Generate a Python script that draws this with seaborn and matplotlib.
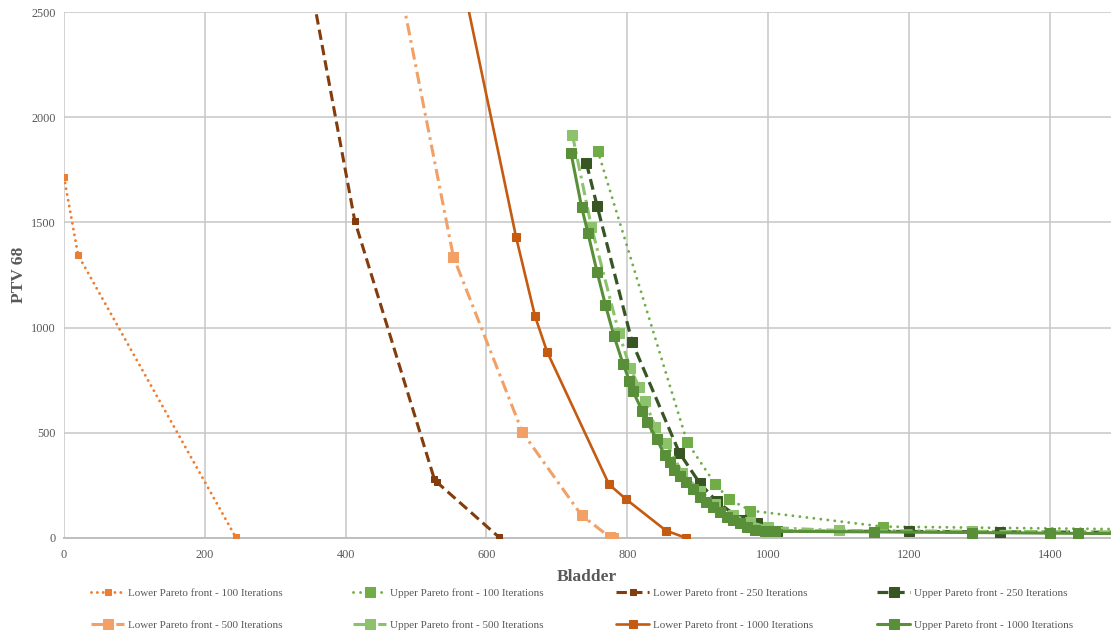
import matplotlib
matplotlib.use("Agg")
import matplotlib.pyplot as plt
import seaborn as sns
import pandas as pd

# ---------------- data ----------------
lower100_x = [0, 20, 244]
lower100_y = [1715, 1345, 3]

upper100_x = [758, 885, 925, 945, 975, 1163, 1500]
upper100_y = [1841, 456, 255, 184, 130, 54, 42]

lower250_x = [330, 413, 526, 530, 618]
lower250_y = [3000, 1507, 280, 264, 3]

upper250_x = [742, 757, 807, 874, 903, 927, 962, 984, 1012, 1200, 1330, 1500]
upper250_y = [1781, 1580, 930, 405, 260, 174, 86, 70, 33, 31, 29, 27]

lower500_x = [455, 553, 651, 735, 775, 780]
lower500_y = [3000, 1337, 503, 108, 5, 2]

upper500_x = [722, 749, 788, 804, 817, 825, 840, 855, 878, 903, 925, 950, 975, 1000,
              1100, 1290, 1500]
upper500_y = [1917, 1480, 976, 808, 716, 651, 526, 453, 310, 225, 160, 110, 75, 50,
              36, 32, 29]

lower1000_x = [544, 642, 669, 686, 774, 798, 855, 884]
lower1000_y = [3000, 1431, 1054, 886, 255, 185, 35, 0]

upper1000_x = [720, 735, 744, 757, 769, 781, 794, 803, 808, 821, 828, 842, 853, 860, 867,
               875, 884, 893, 903, 912, 922, 931, 941, 950, 960, 970, 981, 995, 1010,
               1150, 1290, 1400, 1440, 1500]
upper1000_y = [1831, 1575, 1451, 1266, 1107, 962, 827, 748, 699, 605, 551, 470, 394, 360, 323,
               295, 268, 232, 196, 170, 146, 122, 101, 85, 70, 52, 38, 33, 32,
               29, 26, 23, 22, 21]

labels = ["Lower Pareto front - 100 Iterations", "Upper Pareto front - 100 Iterations",
          "Lower Pareto front - 250 Iterations", "Upper Pareto front - 250 Iterations",
          "Lower Pareto front - 500 Iterations", "Upper Pareto front - 500 Iterations",
          "Lower Pareto front - 1000 Iterations", "Upper Pareto front - 1000 Iterations"]

x_ticks = [0, 200, 400, 600, 800, 1000, 1200, 1400]
y_ticks = [0, 500, 1000, 1500, 2000, 2500]

# ---------------- styling ----------------
# (x, y, colour, dash pattern, capstyle, linewidth, markersize)
series = [
    (lower100_x, lower100_y, "#ED7D31", (0, (0.01, 2.0)), "round", 2.1, 5.0),
    (upper100_x, upper100_y, "#70AD47", (0, (0.01, 2.4)), "round", 2.1, 6.8),
    (lower250_x, lower250_y, "#843C0C", (0, (3.4, 1.7)), "butt", 2.2, 4.5),
    (upper250_x, upper250_y, "#375623", (0, (3.4, 1.7)), "butt", 2.3, 6.5),
    (lower500_x, lower500_y, "#F2A066", (0, (4.0, 1.6, 0.9, 1.6)), "butt", 2.2, 6.8),
    (upper500_x, upper500_y, "#8CC26C", (0, (4.0, 1.6, 0.9, 1.6)), "butt", 2.2, 6.8),
    (lower1000_x, lower1000_y, "#C55A11", "-", "butt", 1.9, 5.8),
    (upper1000_x, upper1000_y, "#5A8F3A", "-", "butt", 2.2, 6.5),
]

sns.set_theme(style="white")
plt.rcParams["font.family"] = ["Liberation Serif", "DejaVu Serif"]

fig = plt.figure(figsize=(11.11, 6.34), dpi=100)
ax = fig.add_axes([64 / 1111, 1 - 538 / 634, (1111 - 64) / 1111, (538 - 12) / 634])

for (xs, ys, col, ls, cap, lw, ms), lab in zip(series, labels):
    df = pd.DataFrame({"Bladder": xs, "PTV": ys})
    sns.lineplot(data=df, x="Bladder", y="PTV", ax=ax, sort=False, estimator=None,
                 color=col, linestyle=ls, linewidth=lw, marker="s", markersize=ms,
                 markeredgecolor=col, markerfacecolor=col, label=lab,
                 solid_joinstyle="round", dash_capstyle=cap, zorder=3)

ax.set_xlim(0, 1487)
ax.set_ylim(0, 2500)
ax.set_xticks(x_ticks)
ax.set_yticks(y_ticks)
ax.grid(True, color="#C6C6C6", linewidth=1.1, zorder=0)
ax.set_axisbelow(True)
for s in ["top", "right", "left"]:
    ax.spines[s].set_visible(False)
ax.spines["bottom"].set_color("#BFBFBF")
ax.spines["bottom"].set_linewidth(1.4)
ax.tick_params(axis="both", length=0, labelsize=8.8, colors="#595959")
ax.tick_params(axis="x", pad=8)
ax.tick_params(axis="y", pad=6)
ax.set_xlabel("")
ax.set_ylabel("")

fig.text(587 / 1111, 1 - 577 / 634, "Bladder", ha="center", va="center",
         fontsize=12.5, fontweight="bold", color="#595959")
fig.text(19 / 1111, 1 - 275 / 634, "PTV 68", ha="center", va="center", rotation=90,
         fontsize=12.5, fontweight="bold", color="#595959")

handles, labs = ax.get_legend_handles_labels()
if ax.get_legend() is not None:
    ax.get_legend().remove()

col_x = [91, 353, 616, 877]
for c in range(4):
    hs = [handles[c], handles[c + 4]]
    ls_ = [labs[c], labs[c + 4]]
    fig.legend(hs, ls_, loc="upper left",
               bbox_to_anchor=(col_x[c] / 1111, 1 - 588 / 634),
               frameon=False, fontsize=8.0, handlelength=3.0, handletextpad=0.3,
               borderpad=0, borderaxespad=0, labelspacing=2.05, labelcolor="#595959",
               numpoints=1)

fig.savefig("out.png", dpi=100)
